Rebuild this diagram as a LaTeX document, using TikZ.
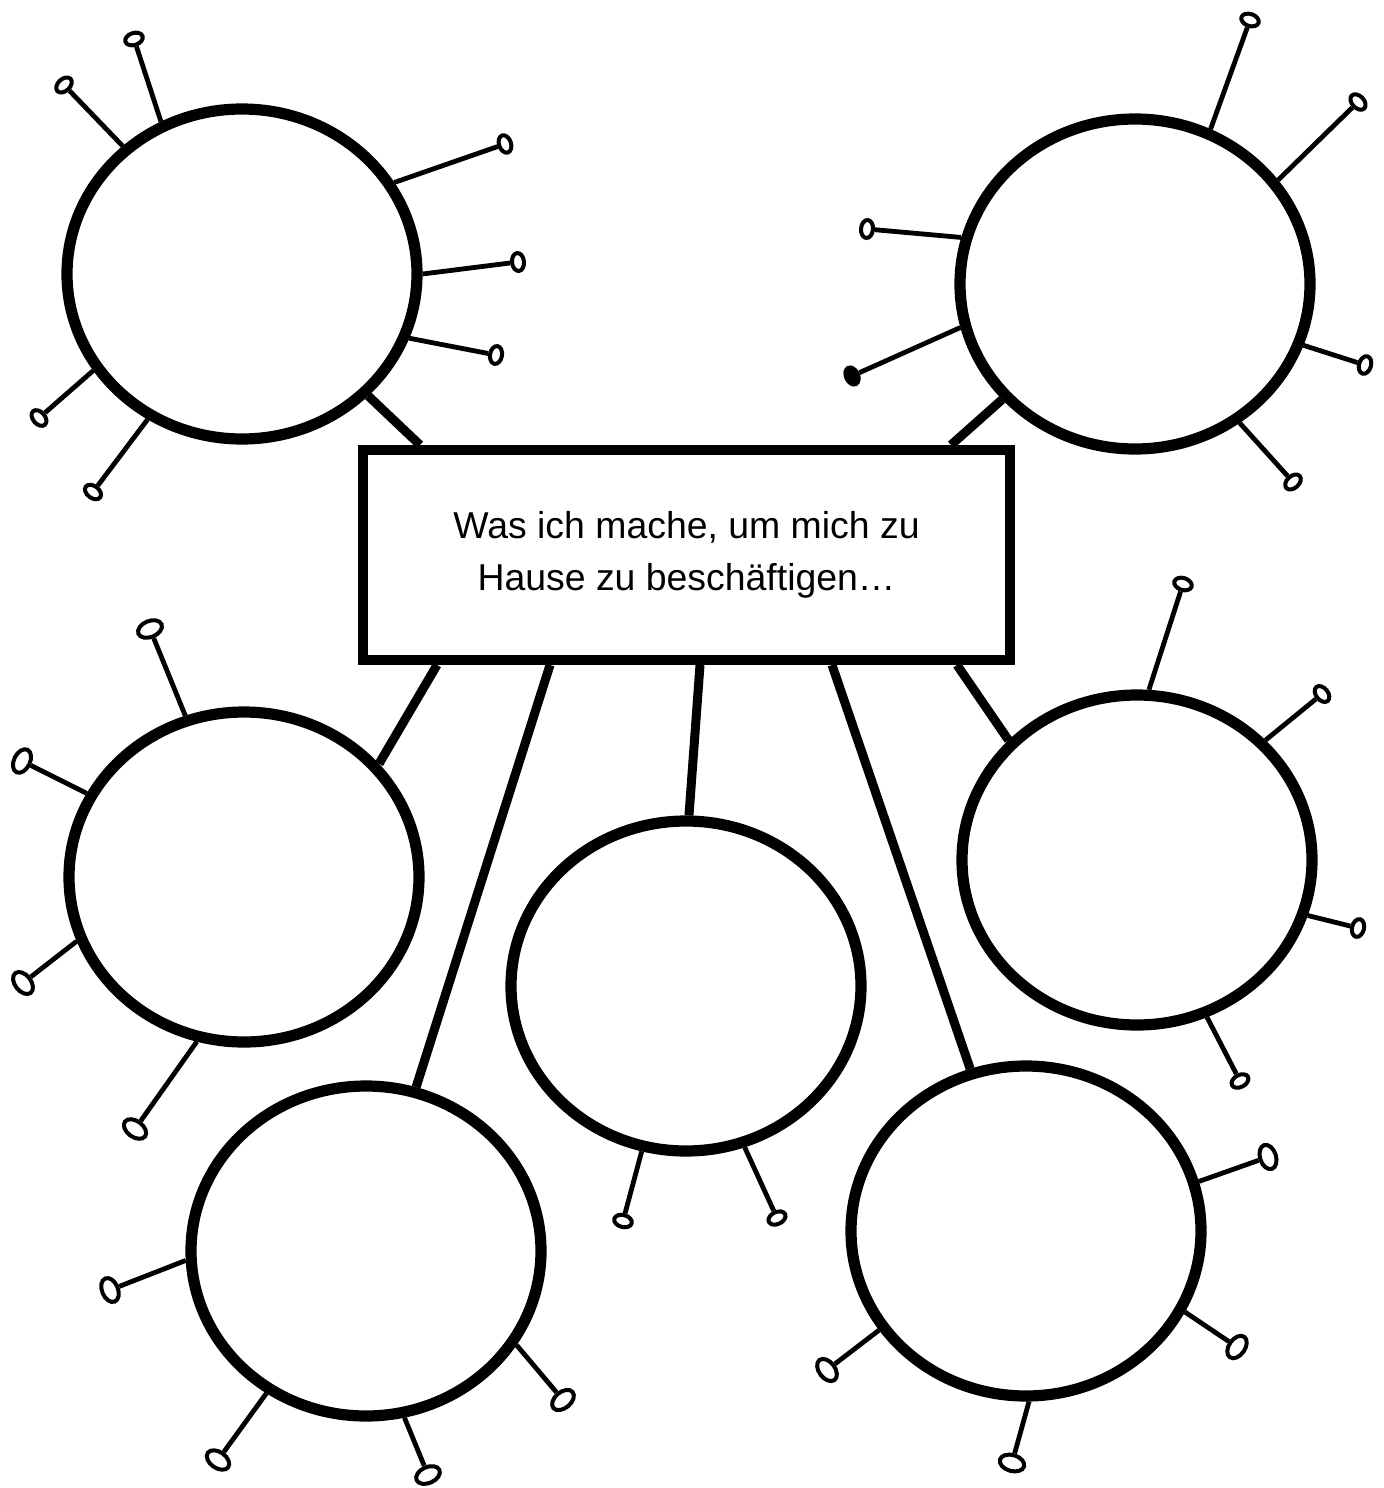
\documentclass[tikz,border=0pt]{standalone}
\usepackage{fontspec}
\setmainfont{Liberation Sans}
\usetikzlibrary{shapes.geometric}

\tikzset{
  idea/.style={ellipse, draw, line width=5.6pt, minimum width=175pt, minimum height=165pt},
  topicbox/.style={rectangle, draw, line width=5pt, minimum width=323.5pt, minimum height=105pt,
    align=center, font=\fontsize{18.7}{26}\selectfont},
  link/.style={line width=4.5pt},
  stalk/.style={line width=2.4pt},
  knob/.style={ellipse, draw, fill=white, line width=2pt, inner sep=0pt, minimum width=6pt, minimum height=9pt},
  bigknob/.style={knob, minimum width=8pt, minimum height=12.5pt},
  dotknob/.style={knob, fill=black}
}

\begin{document}
\begin{tikzpicture}[x=0.5pt,y=-0.5pt]
    \useasboundingbox (0,0) rectangle (1384,1488);

    \node[topicbox] (topic) at (686.5,555) {Was ich mache, um mich zu\\Hause zu beschäftigen…};

    \node[idea] (idea1) at (242,274) {};
    \node[idea] (idea2) at (1135,284) {};
    \node[idea] (idea3) at (244,877) {};
    \node[idea] (idea4) at (686,986) {};
    \node[idea] (idea5) at (1137,860) {};
    \node[idea] (idea6) at (366,1251) {};
    \node[idea] (idea7) at (1026,1231) {};

    \draw[link] ([xshift=31pt]topic.north west) -- (idea1.-44);
    \draw[link] ([xshift=296.5pt]topic.north west) -- (idea2.221);
    \draw[link] ([xshift=39.5pt]topic.south west) -- (idea3.40);
    \draw[link] ([xshift=96pt]topic.south west) -- (idea6.73);
    \draw[link] ([xshift=171pt]topic.south west) -- (idea4.89);
    \draw[link] ([xshift=237pt]topic.south west) -- (idea7.109);
    \draw[link] ([xshift=299.5pt]topic.south west) -- (idea5.137);

    \foreach \c/\a/\x/\y/\r/\s [count=\i] in {
        idea1/118/134/39/108/knob, idea1/133/64/85/133/knob, idea1/31/505/144/19/knob,
        idea1/0/518/262/6/knob, idea1/-21/496/355/-10/knob, idea1/213/39/418/221/knob,
        idea1/237/93/492/233/knob,
        idea2/64/1250/20/71/knob, idea2/36/1358/102/44/knob, idea2/165/867/229/175/knob,
        idea2/194/852/376/205/dotknob, idea2/-20/1365/365/-16/knob, idea2/-53/1293/482/-48/knob,
        idea3/110/150/629/112/bigknob, idea3/152/22/761/154/bigknob,
        idea3/201/23/983/218/bigknob, idea3/254/135/1129/234/bigknob,
        idea4/255/623/1221/255/knob, idea4/290/777/1218/295/knob,
        idea5/86/1183/584/72/knob, idea5/43/1322/694/39/knob,
        idea5/-18/1358/928/-13/knob, idea5/-66/1240/1081/-62/knob,
        idea6/183/110/1290/202/bigknob, idea6/235/218/1460/235/bigknob,
        idea6/283/428/1475/294/bigknob, idea6/-32/563/1400/-50/bigknob,
        idea7/16/1268/1157/18/bigknob, idea7/-27/1237/1347/-35/bigknob,
        idea7/214/827/1370/217/bigknob, idea7/271/1012/1463/254/bigknob}
    {
        \node[\s, rotate=\r] (knob\i) at (\x,\y) {};
        \draw[stalk] (\c.\a) -- (knob\i);
    }
\end{tikzpicture}
\end{document}
